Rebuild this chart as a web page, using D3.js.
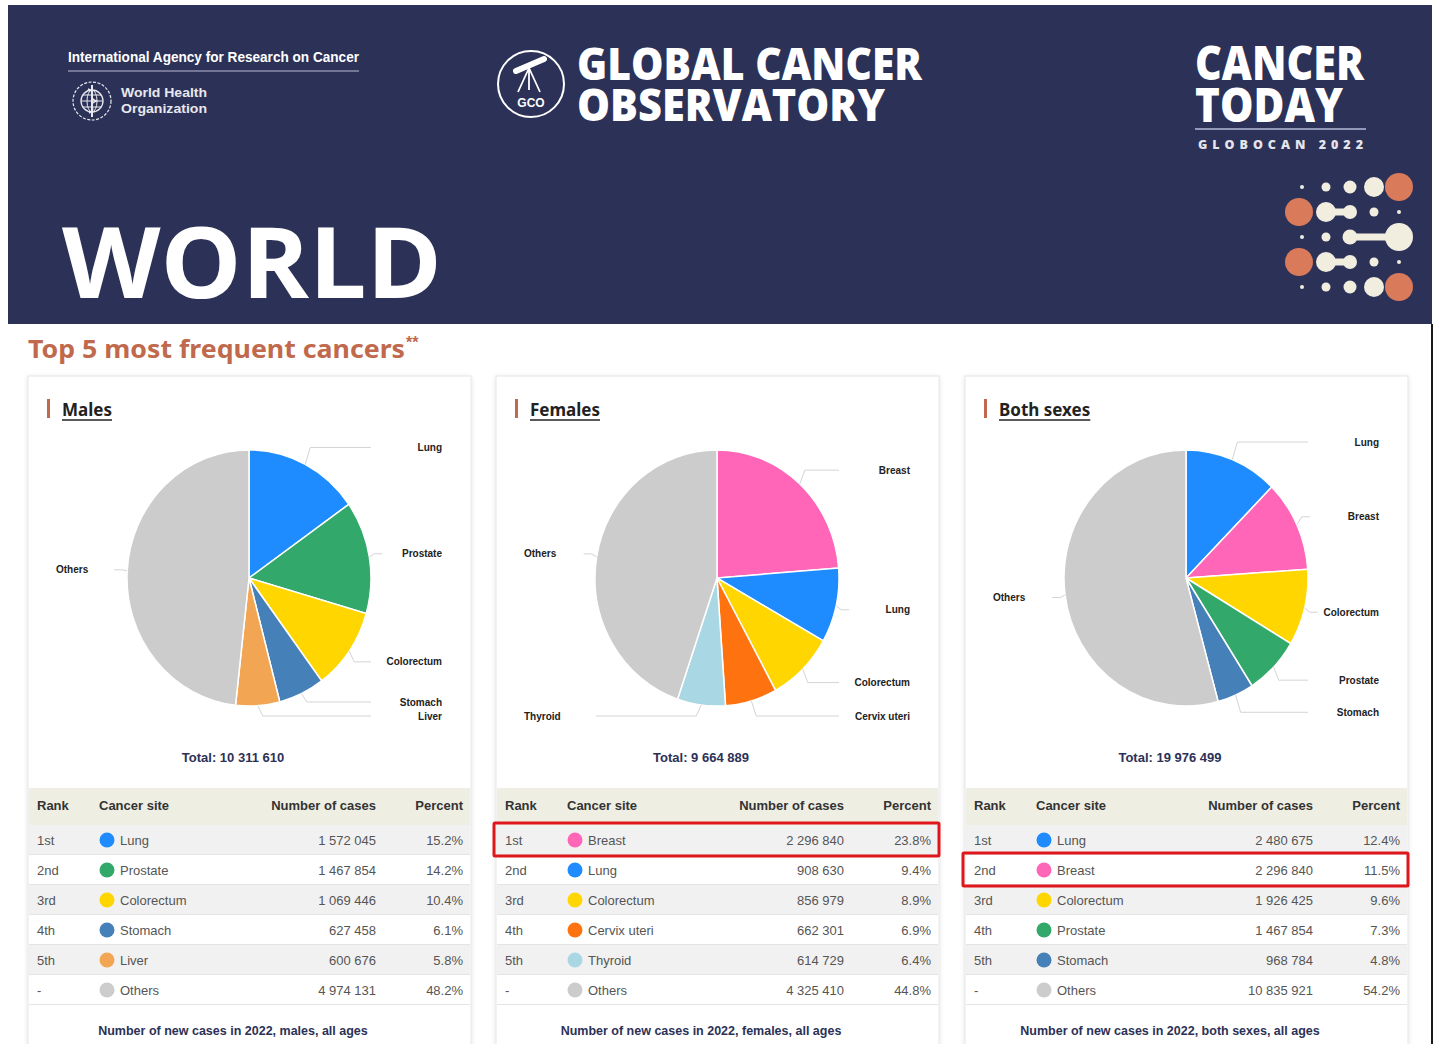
<!DOCTYPE html>
<html>
<head>
<meta charset="utf-8">
<script src="https://cdn.jsdelivr.net/npm/d3@7"></script>
<style>
body{margin:0;background:#fff;}
svg{display:block;font-family:'Liberation Sans',Arial,sans-serif;}
</style>
</head>
<body>
<div id="container"></div>
<script>
const canvasWidth = 1437;
const canvasHeight = 1044;

// values
let ranks = ['1st','2nd','3rd','4th','5th','-'];

let malesSites = ['Lung','Prostate','Colorectum','Stomach','Liver','Others'];
let malesCases = [1572045,1467854,1069446,627458,600676,4974131];
let malesPercent = [15.2,14.2,10.4,6.1,5.8,48.2];
let malesTotal = 10311610;

let femalesSites = ['Breast','Lung','Colorectum','Cervix uteri','Thyroid','Others'];
let femalesCases = [2296840,908630,856979,662301,614729,4325410];
let femalesPercent = [23.8,9.4,8.9,6.9,6.4,44.8];
let femalesTotal = 9664889;

let bothSites = ['Lung','Breast','Colorectum','Prostate','Stomach','Others'];
let bothCases = [2480675,2296840,1926425,1467854,968784,10835921];
let bothPercent = [12.4,11.5,9.6,7.3,4.8,54.2];
let bothTotal = 19976499;

let panelTitles = ['Males','Females','Both sexes'];
let footNotes = ['males','females','both sexes'];
let highlighted = [null,0,1];

//site color
let sc = {
  'Lung':'#1e8cff',
  'Prostate':'#33a86b',
  'Colorectum':'#ffd600',
  'Stomach':'#4680b8',
  'Liver':'#f2a552',
  'Breast':'#ff66b8',
  'Cervix uteri':'#ff7210',
  'Thyroid':'#a9d8e4',
  'Others':'#cccccc'
};

let navy = '#2c3157';
let rust = '#c0694c';

let fmt = d3.formatLocale({decimal:'.',thousands:' ',grouping:[3],currency:['','']}).format(',d');

function makePanel(title,sites,cases,percent,total,note,hl){
  let rows = sites.map(function(s,i){
    return {site:s,cases:cases[i],percent:percent[i],rank:ranks[i]};
  });
  return {title:title,rows:rows,total:total,note:note,hl:hl};
}

let panels = [
  makePanel(panelTitles[0],malesSites,malesCases,malesPercent,malesTotal,footNotes[0],highlighted[0]),
  makePanel(panelTitles[1],femalesSites,femalesCases,femalesPercent,femalesTotal,footNotes[1],highlighted[1]),
  makePanel(panelTitles[2],bothSites,bothCases,bothPercent,bothTotal,footNotes[2],highlighted[2])
];

let svg = d3.select('#container')
.append('svg')
.attr('width',canvasWidth)
.attr('height',canvasHeight);

let defs = svg.append('defs');
defs.append('filter').attr('id','shadow')
  .attr('x','-5%').attr('y','-5%').attr('width','110%').attr('height','110%')
  .append('feDropShadow')
  .attr('dx',0).attr('dy',1).attr('stdDeviation',2)
  .attr('flood-color','#000').attr('flood-opacity',0.12);

// ---------- header ----------
svg.append('rect')
  .attr('x',8).attr('y',5)
  .attr('width',1424).attr('height',319)
  .attr('fill',navy);

svg.append('line')
  .attr('x1',1432).attr('x2',1432)
  .attr('y1',324).attr('y2',canvasHeight)
  .attr('stroke','#1a1a1a').attr('stroke-width',2);

// IARC / WHO block
svg.append('text')
  .attr('x',68).attr('y',62)
  .attr('font-family',"'Liberation Sans Narrow','Liberation Sans',sans-serif")
  .attr('font-weight',700).attr('font-size',15)
  .attr('fill','#fff')
  .attr('textLength',291).attr('lengthAdjust','spacingAndGlyphs')
  .text('International Agency for Research on Cancer');

svg.append('line')
  .attr('x1',68).attr('x2',359).attr('y1',71).attr('y2',71)
  .attr('stroke','#b9bdd3').attr('stroke-width',1.2);

let who = svg.append('g').attr('transform','translate(92,101)')
  .attr('fill','none').attr('stroke','#e8e8ee');
who.append('circle').attr('r',19).attr('stroke-width',1.2).attr('stroke-dasharray','3 1.5');
who.append('circle').attr('r',11).attr('stroke-width',1.3);
who.append('ellipse').attr('rx',5).attr('ry',11).attr('stroke-width',1);
who.append('line').attr('x1',-11).attr('x2',11).attr('stroke-width',1);
who.append('line').attr('x1',-9).attr('x2',9).attr('y1',-6).attr('y2',-6).attr('stroke-width',1);
who.append('line').attr('x1',-9).attr('x2',9).attr('y1',6).attr('y2',6).attr('stroke-width',1);
who.append('line').attr('x1',0).attr('x2',0).attr('y1',-16).attr('y2',16).attr('stroke-width',2);
who.append('path').attr('d','M-4,-12 C6,-9 -6,-4 4,0 C-6,4 6,8 -3,12').attr('stroke-width',1.6);

let whoText = svg.append('text')
  .attr('font-weight',700).attr('font-size',13)
  .attr('fill','#e8e8ee');
whoText.append('tspan')
  .attr('x',121).attr('y',97)
  .attr('textLength',86).attr('lengthAdjust','spacingAndGlyphs')
  .text('World Health');
whoText.append('tspan')
  .attr('x',121).attr('y',113)
  .attr('textLength',86).attr('lengthAdjust','spacingAndGlyphs')
  .text('Organization');

// GCO logo
let gco = svg.append('g').attr('transform','translate(531,84)');
gco.append('circle').attr('r',33).attr('fill','none').attr('stroke','#fff').attr('stroke-width',2);
gco.append('line').attr('x1',-15).attr('y1',-13).attr('x2',13).attr('y2',-25)
  .attr('stroke','#fff').attr('stroke-width',6).attr('stroke-linecap','round');
gco.append('path').attr('d','M-2,-16 L-13,8 M-2,-16 L9,8 M-2,-16 L-2,6')
  .attr('stroke','#fff').attr('stroke-width',1.8).attr('fill','none');
gco.append('text')
  .attr('x',0).attr('y',23)
  .attr('text-anchor','middle')
  .attr('font-weight',700).attr('font-size',12)
  .attr('fill','#fff')
  .text('GCO');

let logoFont = "'Open Sans','Noto Sans',sans-serif";

let gcoText = svg.append('text')
  .attr('font-family',logoFont).attr('font-weight',800).attr('font-size',45)
  .attr('fill','#fff');
gcoText.append('tspan')
  .attr('x',577).attr('y',80)
  .attr('textLength',345).attr('lengthAdjust','spacingAndGlyphs')
  .text('GLOBAL CANCER');
gcoText.append('tspan')
  .attr('x',577).attr('y',121)
  .attr('textLength',308).attr('lengthAdjust','spacingAndGlyphs')
  .text('OBSERVATORY');

let todayText = svg.append('text')
  .attr('font-family',logoFont).attr('font-weight',800)
  .attr('fill','#fff');
todayText.append('tspan')
  .attr('x',1195).attr('y',80).attr('font-size',47)
  .attr('textLength',169).attr('lengthAdjust','spacingAndGlyphs')
  .text('CANCER');
todayText.append('tspan')
  .attr('x',1195).attr('y',122).attr('font-size',47)
  .attr('textLength',148).attr('lengthAdjust','spacingAndGlyphs')
  .text('TODAY');
svg.append('text')
  .attr('x',1198).attr('y',149)
  .attr('font-family',logoFont).attr('font-weight',800).attr('font-size',12.5)
  .attr('fill','#e4e4ea')
  .attr('textLength',165).attr('lengthAdjust','spacing')
  .text('GLOBOCAN 2022');
svg.append('line')
  .attr('x1',1195).attr('x2',1366).attr('y1',129).attr('y2',129)
  .attr('stroke','#9398b8').attr('stroke-width',2);

// dot pattern: [col, row, r, colour]
let cream = '#f1eee0';
let coral = '#d97a5a';
let dotCols = [1302,1326,1350,1374,1399];
let dotRows = [187,212,237,262,287];
let dots = [
  [0,0,2,cream],[1,0,4.5,cream],[2,0,6.5,cream],[3,0,10,cream],[4,0,14,coral],
  [1,1,10,cream],[2,1,7,cream],[3,1,4.5,cream],[4,1,2,cream],
  [0,2,2,cream],[1,2,4.5,cream],[2,2,7.5,cream],[4,2,14,cream],
  [1,3,10,cream],[2,3,7,cream],[3,3,4.5,cream],[4,3,2,cream],
  [0,4,2,cream],[1,4,4.5,cream],[2,4,6.5,cream],[3,4,10,cream],[4,4,14,coral]
];
let necks = [[1,2,1],[1,2,3],[2,4,2]];
let dotG = svg.append('g');
dotG.selectAll('.neck').data(necks).enter()
  .append('rect')
  .attr('x',function(d){return dotCols[d[0]];})
  .attr('y',function(d){return dotRows[d[2]]-3.5;})
  .attr('width',function(d){return dotCols[d[1]]-dotCols[d[0]];})
  .attr('height',7)
  .attr('fill',cream);
dotG.selectAll('.dot').data(dots).enter()
  .append('circle')
  .attr('cx',function(d){return dotCols[d[0]];})
  .attr('cy',function(d){return dotRows[d[1]];})
  .attr('r',function(d){return d[2];})
  .attr('fill',function(d){return d[3];});
dotG.selectAll('.bigdot').data([1,3]).enter()
  .append('circle')
  .attr('cx',1299)
  .attr('cy',function(d){return dotRows[d];})
  .attr('r',14)
  .attr('fill',coral);

svg.append('text')
  .attr('x',62).attr('y',298)
  .attr('font-family',logoFont).attr('font-weight',700).attr('font-size',98)
  .attr('fill','#fff')
  .attr('textLength',380).attr('lengthAdjust','spacingAndGlyphs')
  .text('WORLD');

// ---------- section title ----------
svg.append('text')
  .attr('x',28).attr('y',358)
  .attr('font-family',"'Noto Sans','Open Sans',sans-serif")
  .attr('font-weight',700).attr('font-size',25)
  .attr('fill',rust)
  .attr('textLength',377).attr('lengthAdjust','spacingAndGlyphs')
  .text('Top 5 most frequent cancers');
svg.append('text')
  .attr('x',406).attr('y',348)
  .attr('font-weight',700).attr('font-size',16)
  .attr('fill',rust)
  .text('**');

// ---------- panels ----------
let cardX = [28,496,965];
let cardW = 443;
let cardTop = 376;
let pieCx = 221;
let pieCy = 578;
let pieR = 122;
let sy = 1.05;
let labelR = 140;

let pie = d3.pie().sort(null).value(function(d){return d.cases;});
let arc = d3.arc().innerRadius(0).outerRadius(pieR);

let rowScale = d3.scaleBand().domain(d3.range(6)).range([825,1005]);

function layoutLabels(list){
  let top = pieCy-150;
  let bottom = pieCy+138;
  list.sort(function(a,b){return a.y-b.y;});
  list.forEach(function(l){ l.y = Math.max(top,Math.min(bottom,l.y)); });
  for(let i=list.length-2;i>=0;i--){
    if(list[i].y>list[i+1].y-14){ list[i].y = list[i+1].y-14; }
  }
  for(let i=1;i<list.length;i++){
    if(list[i].y<list[i-1].y+14){ list[i].y = list[i-1].y+14; }
  }
}

panels.forEach(function(p,k){
  let x0 = cardX[k];
  let g = svg.append('g').attr('transform','translate('+x0+',0)');

  g.append('rect')
    .attr('x',0).attr('y',cardTop)
    .attr('width',cardW).attr('height',canvasHeight-cardTop+20)
    .attr('fill','#fff')
    .attr('stroke','#e6e6e6')
    .attr('filter','url(#shadow)');

  // title
  g.append('rect')
    .attr('x',19).attr('y',399)
    .attr('width',3).attr('height',19)
    .attr('fill',rust);
  let t = g.append('text')
    .attr('x',34).attr('y',416)
    .attr('font-family',"'Noto Sans','Liberation Sans',sans-serif")
    .attr('font-weight',700).attr('font-size',17)
    .attr('fill','#222')
    .text(p.title);
  let tw = t.node().getComputedTextLength();
  g.append('line')
    .attr('x1',34).attr('x2',34+tw)
    .attr('y1',420).attr('y2',420)
    .attr('stroke','#222').attr('stroke-width',1.4);

  // pie
  let slices = pie(p.rows);
  let pg = g.append('g')
    .attr('transform','translate('+pieCx+','+pieCy+') scale(1,'+sy+')');
  pg.selectAll('.slice').data(slices).enter()
    .append('path')
    .attr('class','slice')
    .attr('d',arc)
    .attr('fill',function(d){return sc[d.data.site];})
    .attr('stroke','#fff')
    .attr('stroke-width',1.5)
    .attr('vector-effect','non-scaling-stroke');

  // labels
  let right = [];
  let left = [];
  slices.forEach(function(s){
    let a = (s.startAngle+s.endAngle)/2;
    let l = {
      site:s.data.site,
      side:a<Math.PI?1:-1,
      ex:pieCx+Math.sin(a)*pieR,
      ey:pieCy-Math.cos(a)*pieR*sy,
      y:pieCy-Math.cos(a)*labelR*sy
    };
    if(l.side>0){right.push(l);}else{left.push(l);}
  });
  layoutLabels(right);
  layoutLabels(left);
  let labels = right.concat(left);

  function connector(l){
    let bx = l.ex+l.side*5;
    let endX;
    if(l.side>0){ endX = Math.max(343,bx+8); }
    else { endX = Math.min(100,bx-8); }
    return 'M'+l.ex+','+l.ey+'L'+bx+','+l.y+'L'+endX+','+l.y;
  }

  g.selectAll('.conn').data(labels).enter()
    .append('path')
    .attr('d',connector)
    .attr('fill','none')
    .attr('stroke','#d4d4d4')
    .attr('stroke-width',1);

  g.selectAll('.plabel').data(labels).enter()
    .append('text')
    .attr('x',function(d){return d.side>0?414:28;})
    .attr('y',function(d){return d.y;})
    .attr('dy','0.35em')
    .attr('text-anchor',function(d){return d.side>0?'end':'start';})
    .attr('font-weight',700).attr('font-size',10)
    .attr('fill','#222')
    .text(function(d){return d.site;});

  g.append('text')
    .attr('x',205).attr('y',762)
    .attr('text-anchor','middle')
    .attr('font-weight',700).attr('font-size',13)
    .attr('fill',navy)
    .text('Total: '+fmt(p.total));

  // table
  g.append('rect')
    .attr('x',1).attr('y',788)
    .attr('width',cardW-2).attr('height',37)
    .attr('fill','#efeee3');

  let heads = [['Rank',9,'start'],['Cancer site',71,'start'],['Number of cases',348,'end'],['Percent',435,'end']];
  g.selectAll('.head').data(heads).enter()
    .append('text')
    .attr('x',function(d){return d[1];})
    .attr('y',810)
    .attr('text-anchor',function(d){return d[2];})
    .attr('font-weight',700).attr('font-size',13)
    .attr('fill','#333')
    .text(function(d){return d[0];});

  let rowG = g.selectAll('.row').data(p.rows).enter()
    .append('g')
    .attr('transform',function(d,i){return 'translate(0,'+rowScale(i)+')';});

  rowG.append('rect')
    .attr('x',1).attr('y',0)
    .attr('width',cardW-2).attr('height',rowScale.bandwidth()-1)
    .attr('fill',function(d,i){return i%2==0?'#f1f1f1':'#fff';});
  rowG.append('line')
    .attr('x1',1).attr('x2',cardW-1)
    .attr('y1',rowScale.bandwidth()-0.5).attr('y2',rowScale.bandwidth()-0.5)
    .attr('stroke','#e4e4e4');

  rowG.append('text')
    .attr('x',9).attr('y',20)
    .attr('font-size',13).attr('fill','#555')
    .text(function(d){return d.rank;});
  rowG.append('circle')
    .attr('cx',79).attr('cy',15).attr('r',7.5)
    .attr('fill',function(d){return sc[d.site];});
  rowG.append('text')
    .attr('x',92).attr('y',20)
    .attr('font-size',13).attr('fill','#555')
    .text(function(d){return d.site;});
  rowG.append('text')
    .attr('x',348).attr('y',20)
    .attr('text-anchor','end')
    .attr('font-size',13).attr('fill','#555')
    .text(function(d){return fmt(d.cases);});
  rowG.append('text')
    .attr('x',435).attr('y',20)
    .attr('text-anchor','end')
    .attr('font-size',13).attr('fill','#555')
    .text(function(d){return d.percent.toFixed(1)+'%';});

  if(p.hl!==null){
    g.append('rect')
      .attr('x',-2).attr('y',rowScale(p.hl)-2)
      .attr('width',cardW+2).attr('height',rowScale.bandwidth()+3)
      .attr('fill','none')
      .attr('stroke','#e0161d')
      .attr('stroke-width',3)
      .attr('rx',1);
  }

  g.append('text')
    .attr('x',205).attr('y',1035)
    .attr('text-anchor','middle')
    .attr('font-weight',700).attr('font-size',12.5)
    .attr('fill',navy)
    .text('Number of new cases in 2022, '+p.note+', all ages');
});
</script>
</body>
</html>
